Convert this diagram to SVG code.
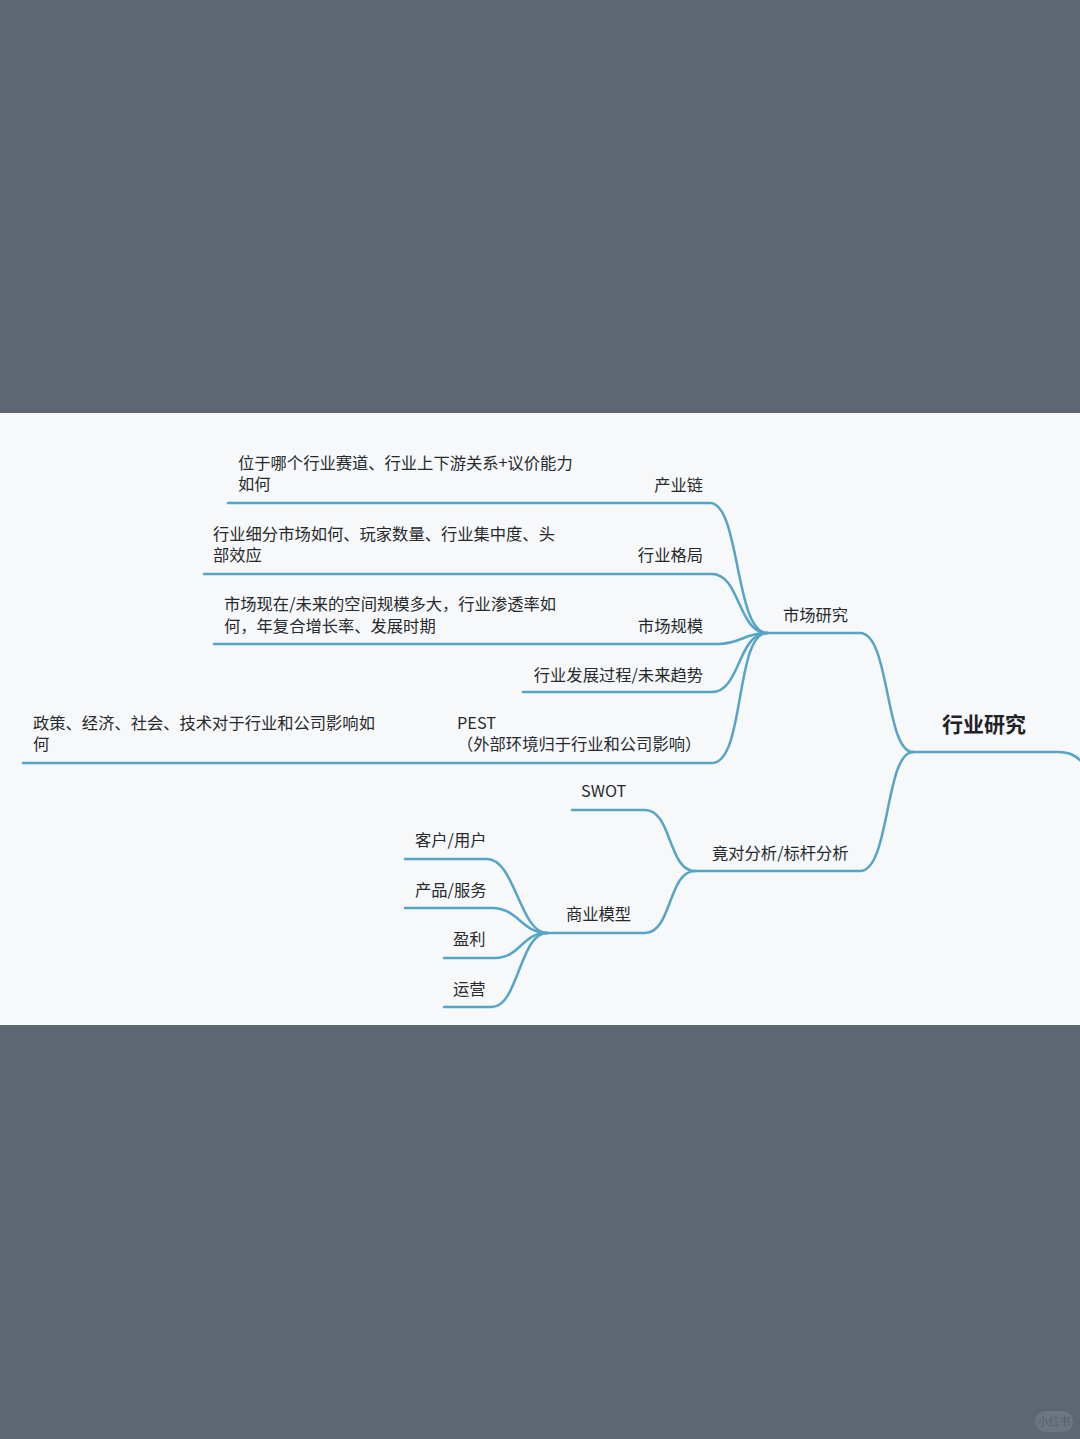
<svg xmlns="http://www.w3.org/2000/svg" width="1080" height="1439" viewBox="0 0 1080 1439">
<style>
.t{font-family:"Noto Sans CJK SC","Noto Sans",sans-serif;font-size:16.3px;fill:#262a2e}
.r{text-anchor:end}
.root{font-family:"Noto Sans CJK SC","Noto Sans",sans-serif;font-size:21px;font-weight:bold;fill:#1f2327}
.c path{fill:none;stroke:#56a5c6;stroke-width:2.5;stroke-linecap:round}
</style>
<rect x="0" y="0" width="1080" height="1439" fill="#5d6772"/>
<rect x="0" y="413" width="1080" height="612" fill="#f6f8f9"/>
<g class="c" id="connectors">
<path d="M913 752 H1058 C1070 752 1076 756 1082 762"/>
<path d="M913 752 C885 752 890 633 860 633 H767"/>
<path d="M913 752 C885 752 890 871 860 871 H695"/>
<path d="M228 503 H710 C740 503 735 633 767 633"/>
<path d="M204 574 H712 C740 574 738 633 767 633"/>
<path d="M214 644 H718 C740 644 745 633 767 633"/>
<path d="M523 692 H712 C740 692 738 633 767 633"/>
<path d="M23 763 H712 C745 763 735 633 767 633"/>
<path d="M572 810 H645 C672 810 668 871 695 871"/>
<path d="M547 933 H645 C672 933 668 871 695 871"/>
<path d="M405 859 H487 C515 859 520 933 547 933"/>
<path d="M405 908 H492 C518 908 522 933 547 933"/>
<path d="M444 958 H495 C520 958 522 933 547 933"/>
<path d="M444 1007 H492 C518 1007 520 933 547 933"/>
</g>
<g id="root"><text class="root" x="942" y="732">行业研究</text></g>
<g id="n-market"><text class="t" x="783" y="621">市场研究</text></g>
<g id="n-chain">
<text class="t" x="238" y="469">位于哪个行业赛道、行业上下游关系+议价能力<tspan x="238" y="490">如何</tspan></text>
<text class="t r" x="703" y="491">产业链</text>
</g>
<g id="n-pattern">
<text class="t" x="213" y="540">行业细分市场如何、玩家数量、行业集中度、头<tspan x="213" y="561">部效应</tspan></text>
<text class="t r" x="703" y="561">行业格局</text>
</g>
<g id="n-size">
<text class="t" x="224" y="610">市场现在/未来的空间规模多大，行业渗透率如<tspan x="224" y="632">何，年复合增长率、发展时期</tspan></text>
<text class="t r" x="703" y="632">市场规模</text>
</g>
<g id="n-trend"><text class="t r" x="703" y="681">行业发展过程/未来趋势</text></g>
<g id="n-pest">
<text class="t" x="33" y="729">政策、经济、社会、技术对于行业和公司影响如<tspan x="33" y="750">何</tspan></text>
<text class="t" x="457" y="729">PEST<tspan x="457" y="750">（外部环境归于行业和公司影响）</tspan></text>
</g>
<g id="n-compete"><text class="t" x="712" y="859">竟对分析/标杆分析</text></g>
<g id="n-swot"><text class="t" x="581" y="797">SWOT</text></g>
<g id="n-biz"><text class="t" x="566" y="920">商业模型</text></g>
<g id="n-customer"><text class="t" x="415" y="846">客户/用户</text></g>
<g id="n-product"><text class="t" x="415" y="896">产品/服务</text></g>
<g id="n-profit"><text class="t" x="453" y="945">盈利</text></g>
<g id="n-ops"><text class="t" x="453" y="995">运营</text></g>
<g id="watermark" opacity="0.35">
<rect x="1035" y="1411" width="38" height="21" rx="10.5" fill="#8a929b"/>
<text x="1054" y="1426" text-anchor="middle" font-family="Noto Sans CJK SC,sans-serif" font-size="11" fill="#4a535c">小红书</text>
</g>
</svg>
